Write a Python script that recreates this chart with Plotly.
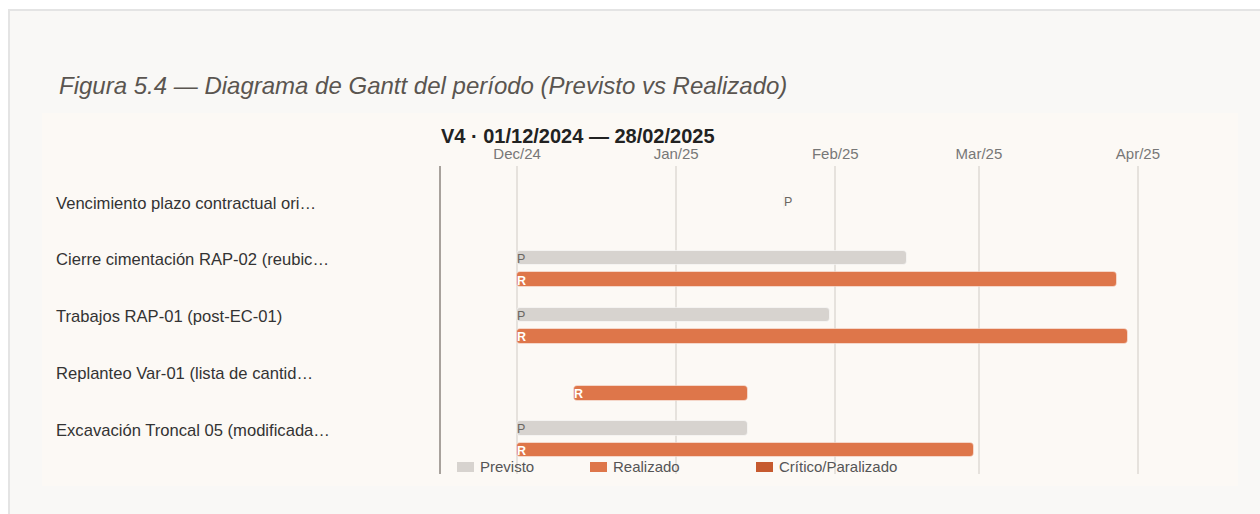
import pandas as pd
import plotly.graph_objects as go

# ---- data -------------------------------------------------------------
tasks = [
    "Vencimiento plazo contractual ori…",
    "Cierre cimentación RAP-02 (reubic…",
    "Trabajos RAP-01 (post-EC-01)",
    "Replanteo Var-01 (lista de cantid…",
    "Excavación Troncal 05 (modificada…",
]
plan_start = ["2025-01-22", "2024-12-01", "2024-12-01", None, "2024-12-01"]
plan_end = ["2025-01-22", "2025-02-15", "2025-01-31", None, "2025-01-15"]
real_start = [None, "2024-12-01", "2024-12-01", "2024-12-12", "2024-12-01"]
real_end = [None, "2025-03-28", "2025-03-30", "2025-01-15", "2025-02-28"]
critical = [False, False, False, False, False]

legend_names = ["Previsto", "Realizado", "Crítico/Paralizado"]
fig_title = "Figura 5.4 — Diagrama de Gantt del período (Previsto vs Realizado)"
chart_title = "V4 · 01/12/2024 — 28/02/2025"
x_range = ["2024-11-16 04:00", "2025-04-20 12:00"]

# ---- styling ----------------------------------------------------------
FONT = "Liberation Sans, Arial, sans-serif"
C_PLAN = "#d7d3cf"
C_REAL = "#de764a"
C_CRIT = "#c65a2f"
W, H = 1260, 514
ML, MR, MT, MB = 441, 22, 166, 40
PW, PH = W - ML - MR, H - MT - MB

P_OFF, R_OFF, BAR_H = -0.03, 0.352, 0.256
MIN_MS = 5 * 3600 * 1000  # keep zero-length milestones visible as a hairline


def px(x):
    return (x - ML) / PW


def py(y):
    return (H - MB - y) / PH


def spans(starts, ends, offset):
    ys, bases, lens, idx = [], [], [], []
    for i, (s, e) in enumerate(zip(starts, ends)):
        if s is None:
            continue
        ms = (pd.Timestamp(e) - pd.Timestamp(s)).total_seconds() * 1000
        ys.append(i + offset)
        bases.append(s)
        lens.append(max(ms, MIN_MS))
        idx.append(i)
    return ys, bases, lens, idx


fig = go.Figure()

py_, pb, pl, pidx = spans(plan_start, plan_end, P_OFF)
fig.add_trace(go.Bar(
    orientation="h", y=py_, base=pb, x=pl, width=BAR_H,
    marker=dict(color=C_PLAN, line=dict(color="rgba(255,255,255,0.5)", width=1)),
    name=legend_names[0], showlegend=False, hoverinfo="skip",
))

ry, rb, rl, ridx = spans(real_start, real_end, R_OFF)
fig.add_trace(go.Bar(
    orientation="h", y=ry, base=rb, x=rl, width=BAR_H,
    marker=dict(color=[C_CRIT if critical[i] else C_REAL for i in ridx],
                line=dict(color="rgba(255,255,255,0.45)", width=1)),
    name=legend_names[1], showlegend=False, hoverinfo="skip",
))

annotations = []
# P / R tags at the start of each bar
for y, s in zip(py_, pb):
    annotations.append(dict(x=s, y=y, xref="x", yref="y", text="P", showarrow=False,
                            xanchor="left", yanchor="middle", yshift=-1, xshift=-2,
                            font=dict(family=FONT, size=12.5, color="#6b6661")))
for y, s in zip(ry, rb):
    annotations.append(dict(x=s, y=y, xref="x", yref="y", text="<b>R</b>", showarrow=False,
                            xanchor="left", yanchor="middle", yshift=-1, xshift=-2,
                            font=dict(family=FONT, size=12.5, color="#ffffff")))

# task labels, left aligned
for i, t in enumerate(tasks):
    annotations.append(dict(x=px(54), y=i, xref="paper", yref="y", text=t, showarrow=False,
                            xanchor="left", yanchor="middle",
                            font=dict(family=FONT, size=16.6, color="#333333")))

# titles
annotations.append(dict(x=px(57), y=py(86), xref="paper", yref="paper",
                        text=f"<i>{fig_title}</i>", showarrow=False,
                        xanchor="left", yanchor="middle",
                        font=dict(family=FONT, size=24, color="#5a5550")))
annotations.append(dict(x=px(439), y=py(136), xref="paper", yref="paper",
                        text=f"<b>{chart_title}</b>", showarrow=False,
                        xanchor="left", yanchor="middle",
                        font=dict(family=FONT, size=20, color="#222222")))

# card backgrounds and legend
shapes = [
    dict(type="rect", xref="paper", yref="paper", layer="below",
         x0=px(9), x1=px(1270), y0=py(10), y1=py(530),
         fillcolor="#f9f8f6", line=dict(color="#e4e4e4", width=2)),
    dict(type="rect", xref="paper", yref="paper", layer="below",
         x0=px(42), x1=px(1238), y0=py(113), y1=py(486),
         fillcolor="#fcf9f5", line=dict(width=0)),
]
legend_x = [457, 590, 756]
legend_c = [C_PLAN, C_REAL, C_CRIT]
for lx, lc, ln in zip(legend_x, legend_c, legend_names):
    shapes.append(dict(type="rect", xref="paper", yref="paper",
                       x0=px(lx), x1=px(lx + 17), y0=py(472), y1=py(462),
                       fillcolor=lc, line=dict(width=0)))
    annotations.append(dict(x=px(lx + 21), y=py(466), xref="paper", yref="paper",
                            text=ln, showarrow=False, xanchor="left", yanchor="middle",
                            font=dict(family=FONT, size=15, color="#555555")))

fig.update_layout(
    width=W, height=H,
    margin=dict(l=ML, r=MR, t=MT, b=MB, pad=0),
    paper_bgcolor="#ffffff", plot_bgcolor="rgba(0,0,0,0)",
    barmode="overlay", barcornerradius=4, bargap=0,
    showlegend=False,
    annotations=annotations, shapes=shapes,
    font=dict(family=FONT),
)
fig.update_xaxes(
    type="date", range=x_range, side="top",
    tickformat="%b/%y", dtick="M1", tick0="2024-12-01",
    tickfont=dict(family=FONT, size=15, color="#777777"),
    ticklabelstandoff=3,
    showgrid=True, gridcolor="#e6e2dd", gridwidth=2,
    zeroline=False, showline=False, ticks="",
)
fig.update_yaxes(
    range=[4.775, -0.652], showticklabels=False, showgrid=False, zeroline=False,
    showline=True, linecolor="#a8a29c", linewidth=2, mirror=False,
)

fig.write_html("out.html")
